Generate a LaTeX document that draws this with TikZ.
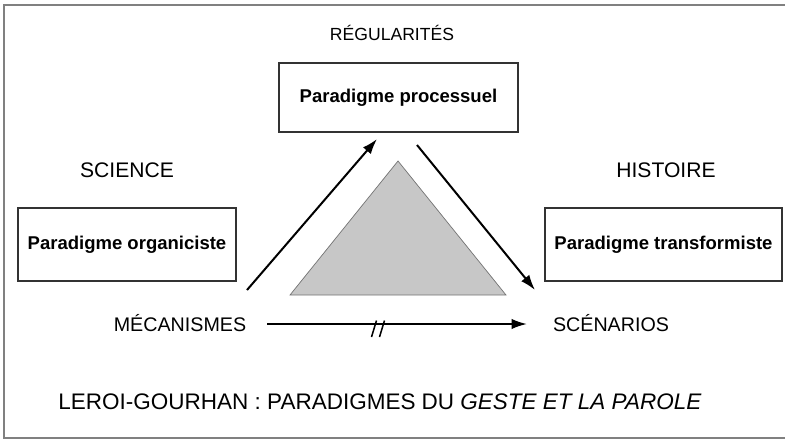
\documentclass[tikz,border=0pt]{standalone}
\usepackage{fontspec}
\setmainfont{Liberation Sans}
\usepackage{tikz}
\usetikzlibrary{arrows.meta}

\tikzset{
  lbl/.style={font=\fontsize{16.8}{19}\selectfont},
  biglbl/.style={font=\fontsize{18}{20}\selectfont},
  parabox/.style={draw=black!80, line width=1.2pt, minimum height=2.07cm, font=\bfseries\fontsize{15.8}{18}\selectfont},
  flow/.style={line width=1.7pt, -{Latex[length=4.6mm,width=3.1mm]}}
}

\begin{document}
\begin{tikzpicture}[x=0.03cm, y=-0.03cm]

\useasboundingbox (0,0) rectangle (785,439);

% cadre
\draw[gray, line width=1.3pt] (786,5) -- (4,5) -- (4,438) -- (786,438);

\node[font=\fontsize{15}{17}\selectfont] (reg) at (392,33) {RÉGULARITÉS};
\node[parabox, minimum width=7.17cm] (proc) at (398.5,97.5) {Paradigme processuel};

\node[biglbl] (sci) at (127,170) {SCIENCE};
\node[biglbl] (hist) at (666,170) {HISTOIRE};

\node[parabox, minimum width=6.54cm, minimum height=2.19cm] (org) at (127,244.5) {Paradigme organiciste};
\node[parabox, minimum width=7.11cm, minimum height=2.19cm] (trans) at (663.5,244.5) {Paradigme transformiste};

% triangle
\draw[fill=black!22, draw=black!55, line width=0.6pt] (398,161) -- (290,295) -- (506,295) -- cycle;

\coordinate (a1) at (247,290);
\coordinate (a2) at (377,139);
\coordinate (b1) at (417,145);
\coordinate (b2) at (535,290);
\draw[flow] (a1) -- (a2);
\draw[flow] (b1) -- (b2);

\node[lbl] (meca) at (180,323.5) {MÉCANISMES};
\node[lbl] (scen) at (611,323.5) {SCÉNARIOS};

\coordinate (c1) at (267,324);
\coordinate (c2) at (527,324);
\draw[flow] (c1) -- (c2);
\draw[line width=1.3pt] (371.5,337) -- (376.5,320.5);
\draw[line width=1.3pt] (379.5,337) -- (384.5,320.5);

\node[font=\fontsize{19.2}{22}\selectfont] (titre) at (380,402) {LEROI-GOURHAN : PARADIGMES DU \textit{GESTE ET LA PAROLE}};

\end{tikzpicture}
\end{document}
